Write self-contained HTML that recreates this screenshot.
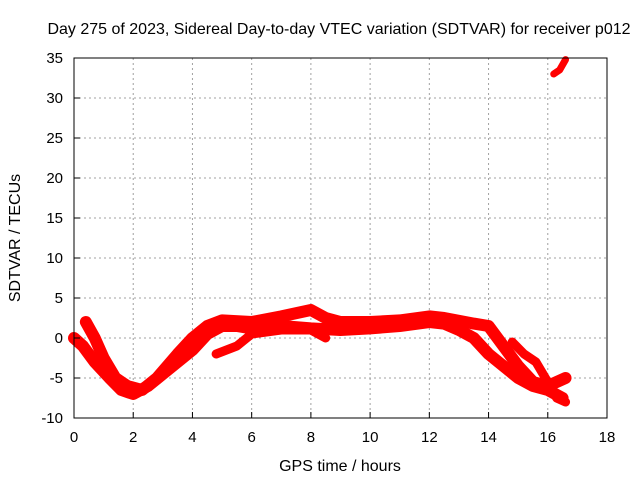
<!DOCTYPE html>
<html><head><meta charset="utf-8"><style>
body{margin:0;background:#fff}
svg{display:block;font-family:"Liberation Sans",sans-serif;font-size:14px}
</style></head><body>
<svg id="chart" width="640" height="480">
<text x="339" y="34" text-anchor="middle" font-size="16">Day 275 of 2023, Sidereal Day-to-day VTEC variation (SDTVAR) for receiver p012</text>
<g id="grid"></g>
<g id="series"></g>
<rect x="74" y="58" width="533" height="360" fill="none" stroke="#000"/>
<g id="axes"></g>
<text x="340" y="471" text-anchor="middle" font-size="16">GPS time / hours</text>
<text transform="translate(20,238) rotate(-90)" text-anchor="middle" font-size="16">SDTVAR / TECUs</text>
</svg>
<script>
const xTicks=[0,2,4,6,8,10,12,14,16,18];
const yTicks=[-10,-5,0,5,10,15,20,25,30,35];
const trackLowerH=[0,0.3,0.7,1.2,1.6,2,2.5,3,3.5,4,4.5,5,5.5,6,7,8,9,10,11,12,12.5,13,13.5,14,14.5,15,15.5,16,16.5];
const trackLowerV=[0,-1,-3,-5,-6.5,-7,-6,-4.5,-3,-1.5,0.5,1.5,1.5,1.2,1.5,1.2,1,1.2,1.5,2,1.8,1,0,-2,-3.5,-5,-6,-6.5,-7.5];
const trackUpperH=[0.4,0.7,1,1.4,1.8,2.3,2.8,3.5,4,4.5,5,6,7,8,8.5,9,10,11,12,12.5,13.5,14,14.5,15,15.5,16,16.6];
const trackUpperV=[2,0,-2.5,-5,-6,-6.5,-5,-2,0,1.5,2.2,2,2.7,3.5,2.5,2,2,2.2,2.7,2.5,1.8,1.5,-1,-3.5,-5.5,-6,-5];
const branchLateH=[14.8,15.2,15.6,16,16.3,16.6];
const branchLateV=[-0.5,-2,-3,-5.5,-7.5,-8];
const branchMidH=[4.8,5.5,6,7,8,8.5];
const branchMidV=[-2,-1,0.5,1,1,0];
const branchTopH=[16.2,16.4,16.6];
const branchTopV=[33,33.5,34.8];
const X=h=>74+h*533/18, Y=v=>58+(35-v)*8;
const NS="http://www.w3.org/2000/svg";
const grid=document.getElementById('grid'),axes=document.getElementById('axes'),ser=document.getElementById('series');
function mk(t,a,p){const e=document.createElementNS(NS,t);for(const k in a)e.setAttribute(k,a[k]);p.appendChild(e);return e;}
xTicks.forEach(t=>{const x=X(t);
 if(t>0&&t<18){const g=mk('line',{x1:x,x2:x,y1:58,y2:418,stroke:'#a0a0a0','stroke-dasharray':'2,3'},grid);
 
 }
 const l=mk('line',{x1:x,x2:x,y1:418,y2:412,stroke:'#000'},axes);
 
 
 const s=mk('text',{x:x,y:442,'text-anchor':'middle',"font-size":15},axes);s.textContent=t;
 
 });
yTicks.forEach(t=>{const y=Y(t);
 if(t>-10&&t<35){const g=mk('line',{x1:74,x2:607,y1:y,y2:y,stroke:'#a0a0a0','stroke-dasharray':'2,3'},grid);
 
 }
 const l=mk('line',{x1:74,x2:80,y1:y,y2:y,stroke:'#000'},axes);
 
 
 const s=mk('text',{x:63,y:y+5,'text-anchor':'end',"font-size":15},axes);s.textContent=t;
 
 });
function track(H,V,name,w){const p=mk('polyline',{points:H.map((h,i)=>X(h)+','+Y(V[i])).join(' '),fill:'none',stroke:'#ff0000','stroke-width':w,'stroke-linejoin':'round','stroke-linecap':'round'},ser);
 
 }
track(trackLowerH,trackLowerV,'track-lower',12);
track(trackUpperH,trackUpperV,'track-upper',12);
track(branchLateH,branchLateV,'branch-late',9);
track(branchMidH,branchMidV,'branch-mid',9);
track(branchTopH,branchTopV,'branch-top',7);
</script>
</body></html>
